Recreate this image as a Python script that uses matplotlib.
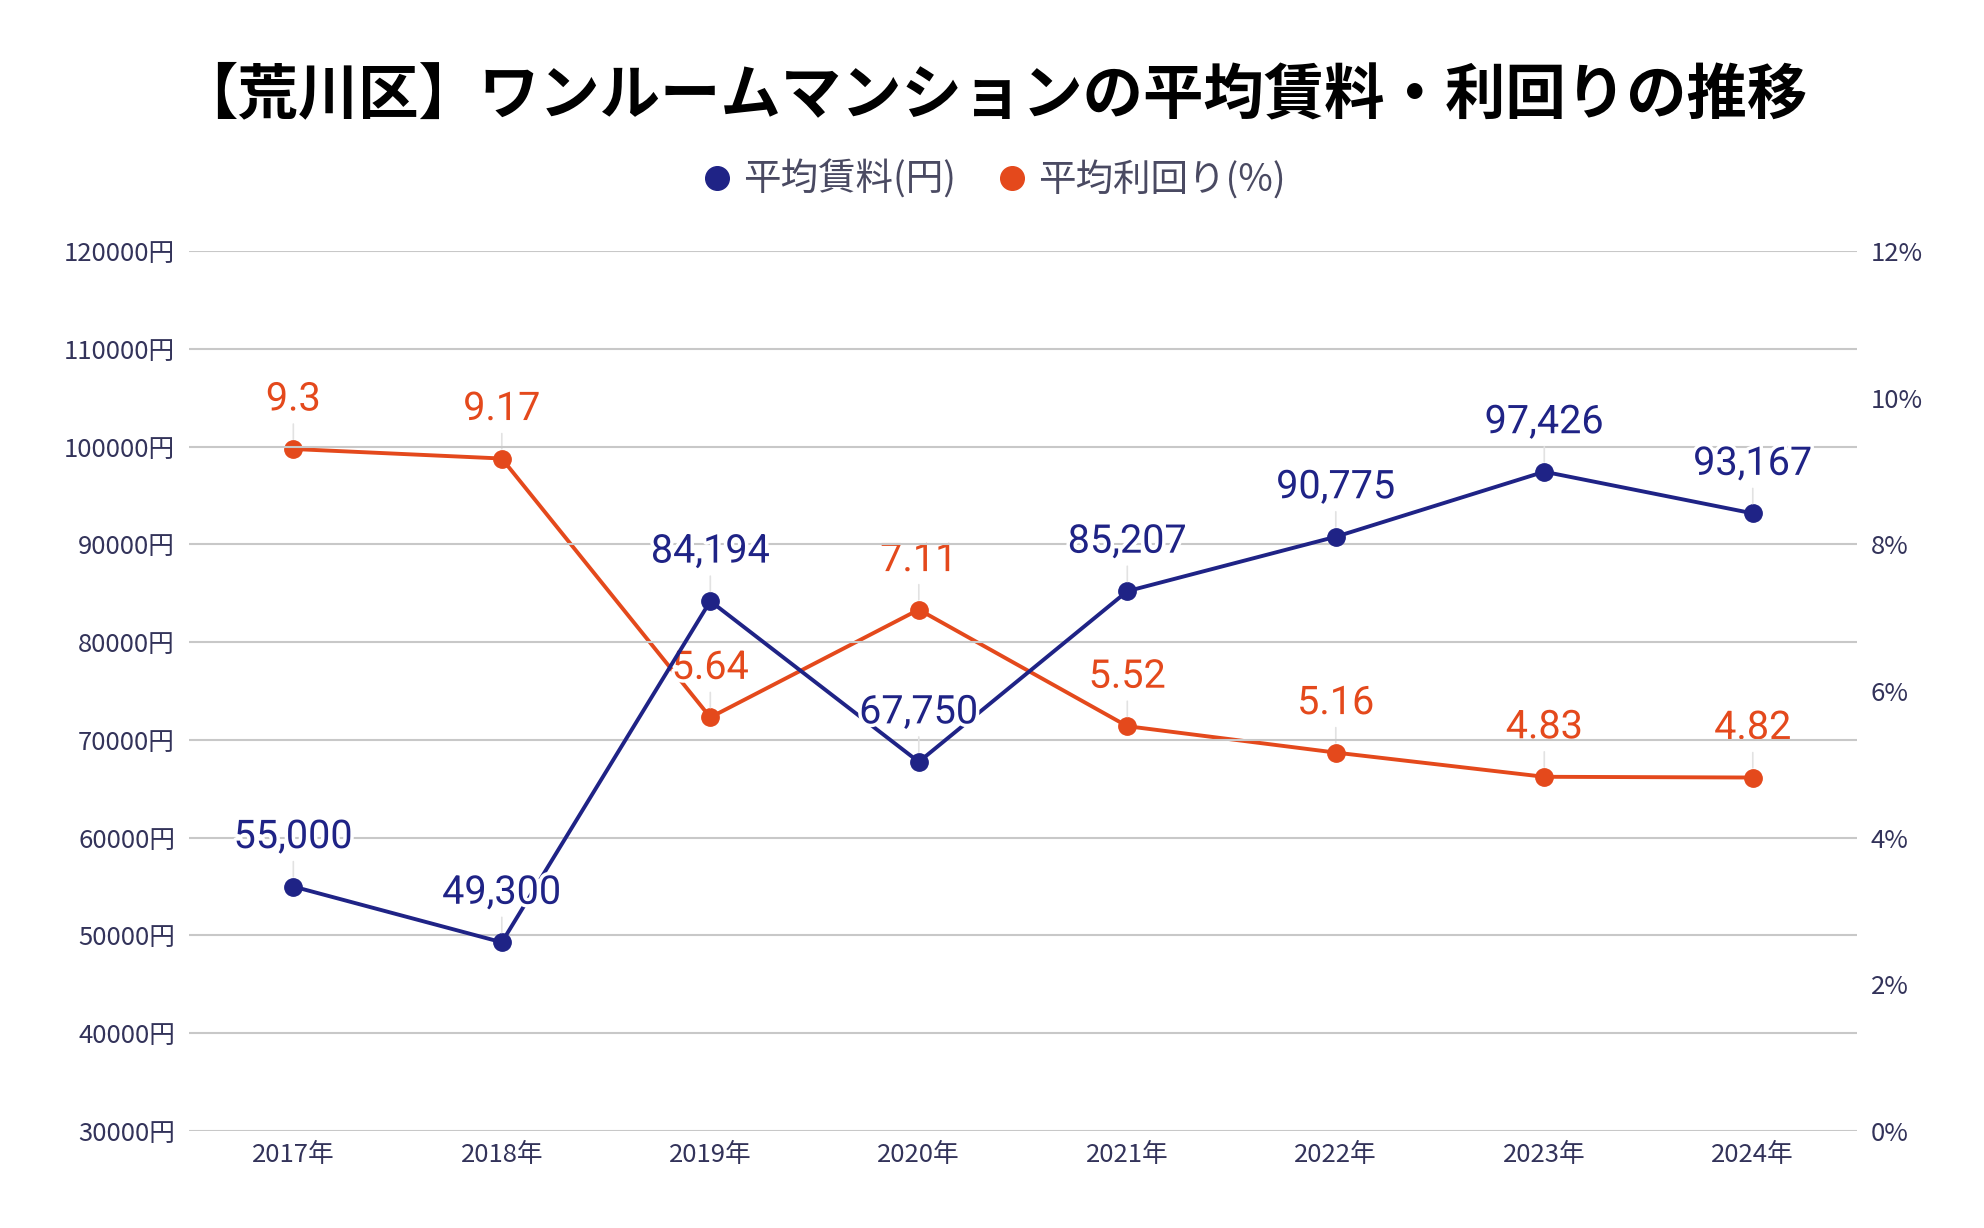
import matplotlib
matplotlib.use("Agg")
import matplotlib.pyplot as plt
import matplotlib.patheffects as pe
from matplotlib.lines import Line2D
from matplotlib.ticker import FuncFormatter, MultipleLocator

plt.rcParams["font.family"] = ["Noto Sans CJK JP", "DejaVu Sans"]

years = ["2017年", "2018年", "2019年", "2020年", "2021年", "2022年", "2023年", "2024年"]
rent = [55000, 49300, 84194, 67750, 85207, 90775, 97426, 93167]
yield_pct = [9.3, 9.17, 5.64, 7.11, 5.52, 5.16, 4.83, 4.82]

NAVY = "#1f2386"
ORANGE = "#e4491c"
TICK = "#33335a"
GRID = "#c8c8c8"

fig = plt.figure(figsize=(19.84, 12.28), dpi=100)
ax = fig.add_axes([0.0953, 0.079, 0.8407, 0.7166])
ax2 = ax.twinx()
ax.set_zorder(ax2.get_zorder() + 1)
ax.patch.set_visible(False)

x = list(range(len(years)))


def label_points(axis, xs, ys, texts, color):
    for xi, yi, t in zip(xs, ys, texts):
        axis.annotate(
            t, xy=(xi, yi), xytext=(0, 36), textcoords="offset points",
            ha="center", va="center", fontsize=28.5, color=color,
            family=["Roboto", "DejaVu Sans"],
            path_effects=[pe.withStroke(linewidth=5, foreground="white")],
            arrowprops=dict(arrowstyle="-", color="#e2e2e2", lw=1.2,
                            shrinkA=2, shrinkB=7),
            zorder=5,
        )


ax2.plot(x, yield_pct, color=ORANGE, lw=2.8, marker="o", ms=12.5, zorder=3)
label_points(ax2, x, yield_pct, [f"{v:g}" for v in yield_pct], ORANGE)

ax.plot(x, rent, color=NAVY, lw=2.8, marker="o", ms=12.5, zorder=3)
label_points(ax, x, rent, [f"{v:,}" for v in rent], NAVY)

ax.set_xlim(-0.5, len(years) - 0.5)
ax.set_ylim(30000, 120000)
ax.yaxis.set_major_locator(MultipleLocator(10000))
ax.yaxis.set_major_formatter(FuncFormatter(lambda v, p: f"{int(v)}円"))
ax2.set_ylim(0, 12)
ax2.yaxis.set_major_locator(MultipleLocator(2))
ax2.yaxis.set_major_formatter(FuncFormatter(lambda v, p: f"{int(v)}%"))

ax.set_xticks(x)
ax.set_xticklabels(years)
ax.grid(axis="y", color=GRID, lw=1.5)
ax.set_axisbelow(True)

for a in (ax, ax2):
    for s in a.spines.values():
        s.set_visible(False)
    a.tick_params(length=0, labelsize=18.5, labelcolor=TICK)
ax.tick_params(axis="y", pad=10)
ax2.tick_params(axis="y", pad=10)
ax.tick_params(axis="x", pad=8)

fig.suptitle("【荒川区】ワンルームマンションの平均賃料・利回りの推移",
             y=0.947, fontsize=43.5, fontweight="bold", color="black")

handles = [
    Line2D([], [], ls="none", marker="o", ms=17, color=NAVY),
    Line2D([], [], ls="none", marker="o", ms=17, color=ORANGE),
]
leg = fig.legend(handles, ["平均賃料(円)", "平均利回り(%)"], loc="center",
                 bbox_to_anchor=(0.5, 0.853), ncol=2, frameon=False,
                 fontsize=27, handletextpad=0.2, columnspacing=1.0,
                 handlelength=1.0)
for t in leg.get_texts():
    t.set_color("#4a4a62")

fig.savefig("out.png", dpi=100, facecolor="white")
